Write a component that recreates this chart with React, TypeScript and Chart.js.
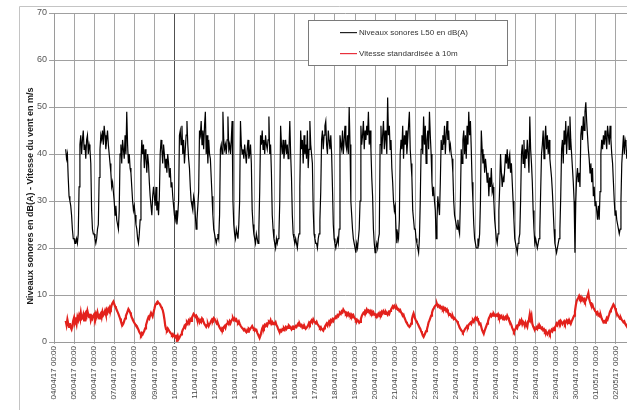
import React, { useEffect, useRef } from "react";
import { Chart, registerables } from "chart.js";

Chart.register(...registerables);

// Daily tick labels (x axis, one per day at 00:00)
const dateLabels = [
  "04/04/17 00:00", "05/04/17 00:00", "06/04/17 00:00", "07/04/17 00:00", "08/04/17 00:00",
  "09/04/17 00:00", "10/04/17 00:00", "11/04/17 00:00", "12/04/17 00:00", "13/04/17 00:00",
  "14/04/17 00:00", "15/04/17 00:00", "16/04/17 00:00", "17/04/17 00:00", "18/04/17 00:00",
  "19/04/17 00:00", "20/04/17 00:00", "21/04/17 00:00", "22/04/17 00:00", "23/04/17 00:00",
  "24/04/17 00:00", "25/04/17 00:00", "26/04/17 00:00", "27/04/17 00:00", "28/04/17 00:00",
  "29/04/17 00:00", "30/04/17 00:00", "01/05/17 00:00", "02/05/17 00:00",
];

// First hourly sample = 04/04/17 14:00 (hours counted from 04/04/17 00:00)
const startHour = 14;

const yTicks = [0, 10, 20, 30, 40, 50, 60, 70];

const legendLabels = ["Niveaux sonores L50 en dB(A)", "Vitesse standardisée à 10m"];
const yTitle = "Niveaux sonores en dB(A) - Vitesse du vent en m/s";

// Hourly noise level L50 dB(A)
const noiseL50 = [
  41, 39, 40, 35, 31, 30, 29, 27, 24, 22,
  22, 21, 21, 22, 21, 23, 33, 42, 44, 40, 43, 45, 41, 42, 39, 43, 44, 40, 42, 41, 38, 28, 24, 23,
  23, 22, 21, 22, 24, 25, 35, 41, 44, 43, 45, 42, 46, 44, 41, 43, 45, 42, 40, 38, 36, 33, 34, 32,
  30, 27, 29, 26, 25, 24, 28, 40, 42, 38, 43, 41, 39, 44, 40, 49, 42, 38, 40, 37, 36, 33, 30, 28,
  29, 27, 25, 24, 22, 21, 23, 26, 38, 43, 40, 42, 37, 41, 39, 36, 40, 38, 34, 31, 29, 27, 31, 33,
  31, 29, 33, 28, 30, 27, 31, 40, 43, 41, 38, 42, 40, 37, 39, 36, 40, 38, 35, 37, 33, 34, 31, 29,
  27, 26, 28, 25, 27, 30, 44, 45, 42, 46, 40, 43, 38, 41, 44, 47, 42, 39, 37, 33, 30, 29, 28, 31,
  30, 27, 24, 26, 29, 32, 45, 44, 47, 42, 45, 41, 46, 49, 40, 44, 38, 43, 40, 39, 35, 31, 27, 24,
  23, 22, 21, 22, 23, 22, 27, 41, 42, 40, 49, 43, 41, 42, 40, 43, 48, 41, 42, 40, 43, 47, 30, 25,
  23, 22, 24, 23, 22, 25, 30, 47, 42, 40, 41, 39, 42, 40, 38, 41, 43, 39, 40, 42, 38, 28, 25, 23,
  22, 21, 23, 22, 21, 24, 32, 44, 42, 45, 41, 43, 40, 44, 42, 41, 43, 48, 40, 42, 36, 27, 24, 22,
  21, 20, 22, 21, 22, 23, 30, 46, 42, 40, 43, 39, 41, 43, 40, 42, 39, 41, 47, 40, 35, 27, 23, 22,
  21, 22, 21, 20, 22, 23, 33, 45, 41, 43, 38, 44, 40, 42, 39, 45, 37, 41, 47, 42, 40, 38, 28, 23,
  22, 21, 21, 20, 22, 23, 26, 32, 43, 45, 41, 44, 46, 47, 42, 40, 45, 43, 41, 44, 40, 33, 25, 22,
  21, 20, 21, 22, 21, 24, 44, 42, 41, 45, 40, 43, 46, 42, 41, 44, 40, 50, 42, 30, 27, 24, 22, 21,
  20, 19, 21, 20, 22, 24, 30, 46, 42, 44, 47, 41, 45, 43, 46, 44, 49, 42, 45, 41, 35, 31, 24, 21,
  19, 20, 21, 20, 22, 23, 42, 46, 40, 44, 47, 41, 45, 43, 40, 52, 44, 46, 41, 43, 37, 34, 30, 28,
  29, 24, 21, 23, 22, 26, 40, 43, 41, 46, 39, 44, 42, 45, 40, 43, 46, 49, 41, 38, 35, 28, 26, 24,
  24, 22, 21, 20, 19, 22, 30, 41, 44, 40, 48, 42, 46, 38, 43, 45, 41, 49, 44, 40, 34, 31, 33, 30,
  28, 22, 26, 31, 29, 27, 34, 43, 41, 44, 42, 46, 40, 44, 47, 43, 45, 41, 42, 40, 39, 36, 30, 27,
  26, 25, 24, 26, 24, 23, 30, 41, 38, 43, 45, 40, 44, 39, 46, 42, 49, 44, 47, 41, 34, 30, 25, 22,
  21, 20, 20, 22, 21, 23, 30, 45, 41, 38, 40, 36, 39, 37, 34, 36, 31, 35, 33, 37, 32, 33, 30, 26,
  24, 22, 21, 23, 28, 33, 40, 36, 33, 35, 34, 37, 40, 38, 41, 37, 39, 40, 36, 38, 34, 30, 26, 22,
  21, 20, 19, 21, 22, 23, 30, 40, 42, 38, 43, 37, 41, 39, 43, 40, 36, 48, 41, 38, 34, 28, 24, 21,
  22, 21, 20, 21, 22, 24, 32, 40, 42, 45, 39, 43, 46, 41, 44, 40, 43, 39, 37, 35, 32, 28, 24, 21,
  20, 19, 20, 21, 22, 24, 31, 41, 43, 38, 45, 42, 47, 40, 44, 46, 41, 48, 43, 40, 37, 34, 30, 19,
  30, 35, 37, 34, 36, 33, 44, 46, 43, 48, 45, 49, 51, 47, 44, 41, 39, 36, 38, 34, 37, 31, 33, 29,
  30, 28, 26, 29, 26, 32, 40, 43, 41, 44, 42, 45, 43, 41, 46, 44, 42, 46, 43, 40, 38, 34, 30, 27,
  28, 26, 25, 24, 23, 24, 30, 38, 41, 44, 40, 43, 42, 39, 41, 44, 40, 42, 43,
];

// Hourly standardised wind speed at 10 m (m/s)
const windSpeed = [
  4.5, 3.6, 4.8, 3.9, 3.2, 4.0, 3.1, 2.7, 3.4, 4.6,
  5.2, 4.1, 4.6, 3.8, 5.3, 4.7, 5.6, 5.0, 6.2, 4.9, 5.1, 5.8, 4.6, 6.0, 6.3, 5.5, 6.6, 5.8, 5.3, 6.0, 4.7, 5.4, 5.0, 5.6,
  5.9, 5.2, 6.0, 5.4, 6.3, 5.5, 5.0, 5.8, 6.1, 5.3, 6.4, 5.7, 6.0, 6.6, 5.9, 6.8, 6.3, 7.0, 6.6, 7.4, 7.1, 7.9, 8.3, 8.6,
  8.1, 7.6, 7.3, 6.8, 6.4, 6.0, 5.5, 5.0, 4.4, 4.0, 3.6, 3.9, 4.5, 5.0, 5.6, 6.0, 6.5, 7.0, 6.7, 6.3, 5.8, 5.2, 4.9, 4.4,
  4.1, 3.8, 3.5, 3.4, 3.0, 2.6, 2.1, 1.8, 1.5, 1.9, 1.6, 2.0, 2.4, 2.9, 3.6, 4.2, 4.8, 5.3, 5.0, 5.7, 6.2, 5.8, 5.5, 6.3,
  7.0, 7.8, 8.1, 8.4, 8.6, 8.3, 8.2, 7.9, 7.5, 7.2, 6.8, 6.0, 4.9, 3.5, 2.7, 2.5, 2.9, 2.6, 2.3, 2.0, 1.8, 1.5, 1.7, 1.3,
  1.4, 1.0, 1.2, 0.8, 1.3, 0.6, 0.9, 1.3, 1.6, 2.1, 2.6, 2.9, 3.4, 3.1, 3.8, 4.2, 3.9, 4.5, 4.1, 4.8, 4.5, 5.2, 5.6, 6.0,
  5.8, 5.4, 5.6, 4.9, 4.5, 4.8, 4.2, 4.6, 4.3, 5.0, 4.7, 4.2, 3.8, 3.5, 3.2, 3.6, 3.9, 3.4, 3.8, 4.1, 4.5, 4.8, 4.6, 5.1,
  4.9, 4.5, 4.2, 3.8, 4.0, 3.5, 3.1, 2.8, 2.5, 2.9, 2.7, 3.2, 3.4, 3.0, 3.7, 3.9, 4.1, 3.8, 4.4, 4.0, 4.5, 4.8, 5.1, 4.7,
  5.0, 4.6, 4.8, 4.3, 4.1, 4.4, 3.9, 3.5, 3.2, 3.0, 2.8, 2.5, 2.7, 2.3, 2.1, 2.5, 2.2, 2.8, 2.6, 2.9, 3.1, 3.4, 3.0, 2.7,
  2.8, 2.5, 2.6, 2.0, 1.6, 1.2, 0.9, 1.4, 2.2, 2.9, 3.3, 3.0, 3.6, 3.4, 3.8, 3.5, 4.0, 4.3, 4.1, 4.6, 3.9, 4.2, 3.8, 4.0,
  3.9, 4.2, 3.6, 3.3, 2.8, 2.4, 2.1, 2.5, 2.3, 2.7, 2.5, 2.9, 2.6, 3.1, 2.8, 3.2, 3.0, 3.5, 3.3, 3.0, 2.7, 3.1, 2.8, 3.2,
  3.1, 3.4, 3.2, 3.6, 3.9, 3.5, 3.8, 3.4, 3.6, 3.1, 3.4, 3.0, 3.2, 2.8, 3.0, 3.3, 3.6, 4.1, 3.8, 4.3, 4.6, 4.2, 4.8, 4.4,
  4.2, 4.0, 4.3, 3.8, 3.6, 3.3, 3.0, 3.2, 2.8, 2.6, 2.4, 2.9, 3.3, 3.6, 3.9, 3.5, 4.0, 4.4, 4.1, 4.6, 4.3, 4.8, 4.5, 5.0,
  5.1, 5.4, 5.2, 5.7, 5.5, 5.9, 6.2, 6.0, 6.5, 6.3, 6.9, 6.6, 6.4, 6.0, 6.2, 5.8, 6.1, 5.6, 5.9, 5.5, 5.8, 5.4, 5.7, 5.2,
  5.0, 4.6, 4.8, 4.4, 4.5, 4.1, 4.3, 4.9, 5.5, 5.9, 6.2, 6.0, 6.6, 6.4, 6.9, 6.5, 6.7, 6.3, 6.6, 6.2, 6.5, 6.0, 6.3, 5.8,
  5.9, 5.6, 5.8, 5.5, 6.0, 5.7, 6.2, 5.9, 6.4, 6.1, 6.6, 6.3, 6.0, 6.4, 6.1, 5.8, 6.3, 6.0, 6.6, 6.9, 7.2, 7.6, 7.3, 7.7,
  7.4, 7.1, 7.3, 6.9, 7.0, 6.6, 6.8, 6.3, 6.0, 5.6, 5.8, 5.2, 4.8, 4.3, 4.0, 3.7, 3.5, 3.2, 3.4, 3.9, 4.8, 5.6, 6.1, 5.5,
  4.9, 4.5, 4.2, 3.9, 3.5, 3.1, 2.8, 2.3, 1.9, 1.4, 1.1, 1.5, 1.9, 2.3, 2.7, 3.4, 4.2, 4.6, 5.1, 5.6, 6.2, 6.8, 7.1, 7.5,
  7.7, 7.9, 8.1, 7.6, 7.8, 7.4, 7.6, 7.2, 7.4, 7.0, 7.3, 6.9, 7.1, 6.6, 6.9, 6.4, 6.1, 5.8, 5.9, 5.5, 5.2, 5.4, 4.9, 5.1,
  4.8, 4.6, 4.4, 4.0, 3.6, 3.1, 2.8, 2.5, 2.3, 2.0, 2.2, 2.6, 2.9, 3.1, 3.4, 3.2, 3.7, 3.9, 4.1, 3.8, 4.4, 4.6, 4.3, 4.9,
  5.2, 4.8, 5.1, 4.6, 4.3, 3.8, 3.9, 3.2, 2.5, 2.1, 1.8, 2.4, 2.9, 3.4, 3.9, 4.4, 5.0, 5.4, 5.8, 5.5, 5.9, 5.6, 6.0, 5.7,
  5.5, 5.8, 5.6, 5.9, 5.3, 5.6, 5.2, 5.5, 5.1, 4.8, 5.2, 4.9, 5.3, 5.0, 5.6, 5.2, 4.7, 4.4, 4.0, 3.6, 3.0, 2.6, 2.2, 2.5,
  2.8, 3.3, 3.0, 3.6, 4.0, 4.5, 4.1, 4.6, 3.8, 4.3, 4.0, 3.4, 4.1, 3.6, 3.2, 4.4, 4.8, 5.9, 4.9, 5.6, 3.9, 3.3, 2.9, 2.6,
  2.7, 3.1, 2.8, 3.4, 3.0, 3.5, 3.2, 2.8, 3.0, 2.5, 2.7, 2.2, 2.4, 1.9, 1.6, 2.0, 2.3, 1.8, 2.2, 2.6, 2.3, 2.8, 2.5, 3.1,
  3.4, 3.9, 3.6, 4.1, 4.4, 4.0, 4.5, 4.2, 3.8, 4.1, 4.4, 3.9, 4.3, 4.6, 4.1, 4.5, 4.0, 4.3, 3.9, 4.4, 4.8, 5.2, 5.6, 6.5,
  7.8, 8.7, 9.1, 9.4, 9.8, 9.3, 9.6, 9.0, 9.3, 8.8, 9.1, 8.6, 8.9, 9.4, 9.8, 10.4, 9.2, 8.5, 8.0, 7.6, 7.9, 7.3, 7.0, 6.6,
  6.4, 6.0, 6.3, 5.7, 5.9, 5.4, 5.6, 5.0, 4.6, 4.2, 4.4, 4.1, 4.6, 5.1, 4.8, 5.4, 5.9, 6.5, 6.9, 7.2, 7.6, 8.0, 7.7, 7.2,
  6.6, 6.1, 5.8, 5.5, 5.2, 4.9, 5.1, 4.7, 4.5, 4.2, 4.4, 3.9, 3.6, 3.3, 3.5, 3.1, 3.4, 3.0, 3.2,
];

const W = 660;
const H = 410;
const FONT = "'Liberation Sans', Arial, sans-serif";

export default function App() {
  const ref = useRef<HTMLCanvasElement>(null);

  useEffect(() => {
    if (!ref.current) return;

    const decor = {
      id: "decor",
      beforeDraw(chart: any) {
        const ctx = chart.ctx;
        ctx.save();
        ctx.fillStyle = "#ffffff";
        ctx.fillRect(0, 0, chart.width, chart.height);
        ctx.strokeStyle = "#c4c4c4";
        ctx.lineWidth = 1;
        ctx.beginPath();
        ctx.moveTo(19.5, chart.height);
        ctx.lineTo(19.5, 6.5);
        ctx.lineTo(chart.width, 6.5);
        ctx.stroke();
        ctx.restore();
      },
      afterDraw(chart: any) {
        const ctx = chart.ctx;
        ctx.save();
        // Y axis title
        ctx.translate(31, 196);
        ctx.rotate(-Math.PI / 2);
        ctx.font = `bold 9px ${FONT}`;
        ctx.fillStyle = "#1a1a1a";
        ctx.textAlign = "center";
        ctx.textBaseline = "middle";
        ctx.fillText(yTitle, 0, 0, 247);
        ctx.restore();

        // Legend box
        ctx.save();
        ctx.fillStyle = "#ffffff";
        ctx.fillRect(308, 20, 199, 45);
        ctx.strokeStyle = "#7a7a7a";
        ctx.lineWidth = 1;
        ctx.strokeRect(308.5, 20.5, 199, 45);
        const rows = [
          { y: 32, color: "#222222", text: legendLabels[0], w: 117 },
          { y: 53, color: "#e8303c", text: legendLabels[1], w: 104 },
        ];
        ctx.font = `8px ${FONT}`;
        ctx.textBaseline = "middle";
        ctx.textAlign = "left";
        for (const r of rows) {
          ctx.fillStyle = r.color;
          ctx.fillRect(340, r.y, 17, 1.2);
          ctx.fillStyle = "#333";
          ctx.fillText(r.text, 359, r.y + 0.5, r.w);
        }
        ctx.restore();
      },
    };

    const windPoints = windSpeed.map((v, i) => ({ x: startHour + i, y: v }));

    const chart = new Chart(ref.current, {
      type: "line",
      data: {
        datasets: [
          {
            label: legendLabels[0],
            data: noiseL50.map((v, i) => ({ x: startHour + i, y: v })),
            borderColor: "#000000",
            borderWidth: 1.2,
            pointRadius: 0,
            tension: 0,
          },
          {
            label: legendLabels[1],
            data: windPoints,
            borderColor: "#e3211c",
            borderWidth: 2.2,
            pointRadius: 0,
            tension: 0,
          },
          {
            label: "",
            data: windPoints,
            borderColor: "rgba(110,20,20,0.55)",
            borderWidth: 0.6,
            pointRadius: 0,
            tension: 0,
          },
        ],
      },
      options: {
        responsive: false,
        animation: false,
        events: [],
        layout: { padding: { left: 0, top: 13, right: W - 636, bottom: 0 } },
        plugins: {
          legend: { display: false },
          tooltip: { enabled: false },
          title: { display: false },
        },
        scales: {
          x: {
            type: "linear",
            min: 0,
            max: 696,
            afterFit(s: any) {
              s.height = H - 342;
            },
            afterBuildTicks(s: any) {
              s.ticks = dateLabels.map((_, i) => ({ value: i * 24 }));
            },
            ticks: {
              autoSkip: false,
              maxRotation: 90,
              minRotation: 90,
              padding: 2,
              color: "#444",
              font: { family: FONT, size: 8 },
              callback: (_v: any, i: number) => dateLabels[i] ?? "",
            },
            grid: {
              color: (c: any) => (c.tick && c.tick.value === 144 ? "#505050" : "#a5a5a5"),
              tickLength: 2,
            },
            border: { color: "#9a9a9a" },
          },
          y: {
            min: 0,
            max: 70,
            afterFit(s: any) {
              s.width = 54;
            },
            afterBuildTicks(s: any) {
              s.ticks = yTicks.map((v) => ({ value: v }));
            },
            ticks: {
              padding: 2,
              color: "#555",
              font: { family: FONT, size: 9 },
            },
            grid: { color: "#a0a0a0", tickLength: 5 },
            border: { color: "#9a9a9a" },
          },
        },
      },
      plugins: [decor],
    });

    return () => chart.destroy();
  }, []);

  return (
    <canvas
      ref={ref}
      width={W}
      height={H}
      style={{ position: "fixed", left: 0, top: 0, width: W, height: H }}
    />
  );
}
